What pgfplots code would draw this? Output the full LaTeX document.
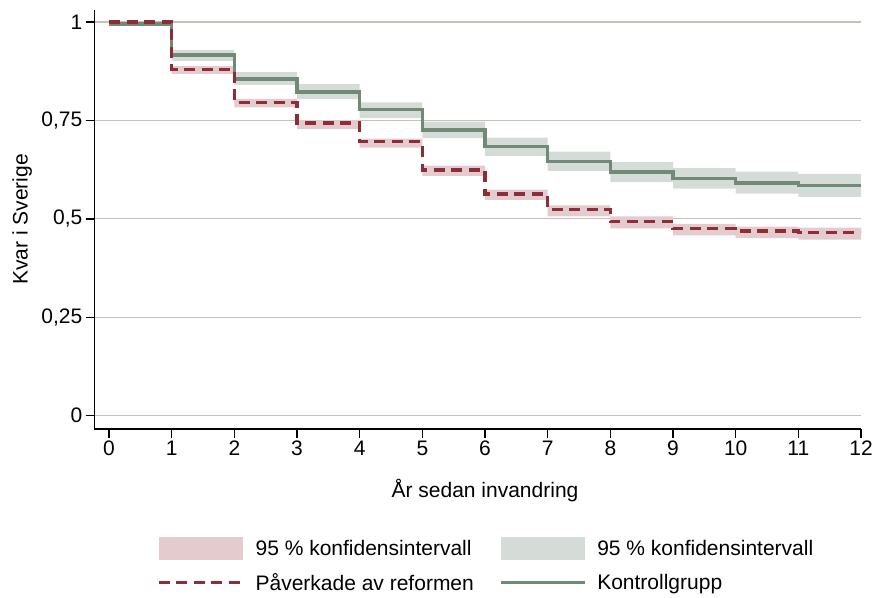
\documentclass[border=0pt]{standalone}
\usepackage{fontspec}
\setmainfont{Liberation Sans}
\usepackage{pgfplots}
\pgfplotsset{compat=1.18}
\usepgfplotslibrary{fillbetween}
\definecolor{redline}{RGB}{142,44,56}
\definecolor{greenline}{RGB}{112,138,119}
\definecolor{redfill}{RGB}{228,203,206}
\definecolor{greenfill}{RGB}{213,220,216}
\definecolor{gridc}{RGB}{201,192,184}
\newcommand{\chartfont}{\fontsize{21}{24}\selectfont}
\pgfplotstableread{
x red green
0 1 0.995
1 0.880 0.916
2 0.796 0.855
3 0.743 0.822
4 0.696 0.777
5 0.624 0.726
6 0.563 0.684
7 0.524 0.646
8 0.493 0.619
9 0.475 0.602
10 0.469 0.591
11 0.465 0.585
12 0.465 0.585
}\maindata
\pgfplotstableread{
x rup rlo gup glo
1 0.888 0.868 0.929 0.901
2 0.805 0.783 0.873 0.840
3 0.751 0.728 0.842 0.804
4 0.704 0.681 0.796 0.756
5 0.635 0.609 0.747 0.705
6 0.574 0.548 0.706 0.660
7 0.534 0.506 0.671 0.622
8 0.506 0.476 0.644 0.593
9 0.487 0.458 0.629 0.577
10 0.480 0.451 0.620 0.564
11 0.478 0.447 0.614 0.556
12 0.478 0.447 0.614 0.556
}\cidata
\begin{document}
\begin{tikzpicture}
\begin{axis}[
  at={(0,0)}, anchor=south west,
  scale only axis, width=766.7pt, height=419pt,
  xmin=-0.235, xmax=12, ymin=-0.0338, ymax=1.0305,
  axis x line=bottom, axis y line=left,
  axis line style={-, line width=1.4pt, black},
  xtick={0,1,...,12}, ytick={0,0.25,0.5,0.75,1},
  tick align=outside, major tick length=8.5pt,
  tick style={line width=1.4pt, black},
  ymajorgrids, grid style={gridc, line width=1.1pt},
  /pgf/number format/assume math mode=true,
  /pgf/number format/use comma,
  ticklabel style={font=\chartfont},
  label style={font=\chartfont},
  xlabel={År sedan invandring},
  ylabel={Kvar i Sverige},
  xlabel style={at={(axis description cs:0.5096,-0.1623)}, anchor=base},
  ylabel style={at={(axis description cs:-0.094,0.5)}, anchor=center},
  legend columns=2,
  legend style={at={(axis description cs:0.0818,-0.2578)}, anchor=north west,
    draw=none, fill=none, inner sep=0pt, font=\chartfont,
    nodes={inner sep=0pt, anchor=west},
    /tikz/every odd column/.append style={column sep=11pt},
    /tikz/every even column/.append style={column sep=25pt},
    row sep=13pt},
]
\addplot[name path=ru, const plot, draw=none, forget plot] table[x=x,y=rup]{\cidata};
\addplot[name path=rl, const plot, draw=none, forget plot] table[x=x,y=rlo]{\cidata};
\addplot[name path=gu, const plot, draw=none, forget plot] table[x=x,y=gup]{\cidata};
\addplot[name path=gl, const plot, draw=none, forget plot] table[x=x,y=glo]{\cidata};
\addplot[fill=redfill, draw=none, legend image code/.code={\fill[redfill] (0pt,-11.5pt) rectangle (84pt,11.5pt);}] fill between[of=ru and rl];
\addlegendentry{95 \% konfidensintervall}
\addplot[fill=greenfill, draw=none, legend image code/.code={\fill[greenfill] (0pt,-11.5pt) rectangle (84pt,11.5pt);}] fill between[of=gu and gl];
\addlegendentry{95 \% konfidensintervall}
\addplot[const plot, greenline, line width=3.4pt, forget plot] table[x=x,y=green]{\maindata};
\addplot[const plot, redline, line width=3.4pt, dash pattern=on 11pt off 6.5pt,
  legend image code/.code={\draw[redline, line width=3.4pt, dash pattern=on 11pt off 6.5pt] (0pt,0pt) -- (84pt,0pt);}] table[x=x,y=red]{\maindata};
\addlegendentry{Påverkade av reformen}
\addlegendimage{greenline, line width=3.4pt, legend image code/.code={\draw[greenline, line width=3.4pt] (0pt,0pt) -- (84pt,0pt);}}
\addlegendentry{Kontrollgrupp}
\end{axis}
\pgfresetboundingbox
\path[use as bounding box] (-94.3pt,-168pt) rectangle (780.7pt,429pt);
\end{tikzpicture}
\end{document}
